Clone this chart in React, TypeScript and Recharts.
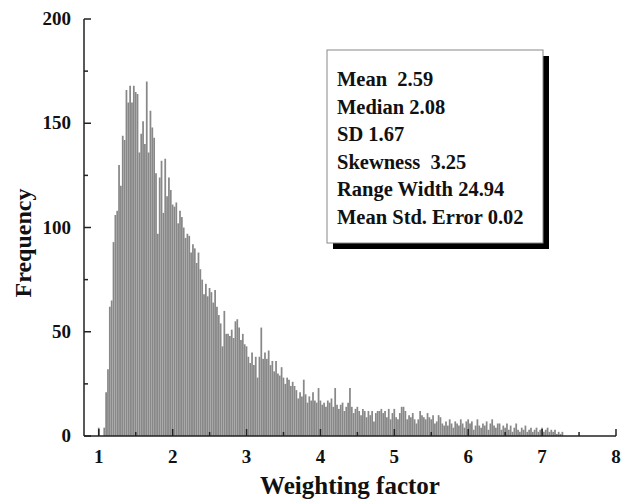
import { BarChart, Bar, XAxis, YAxis } from "recharts";

// histogram bins: centres start at 1.0, 0.025 wide
const binStart = 1.0;
const binWidth = 0.025;

const freq1to2 = [
  4, 0, 0, 4, 21, 32, 62, 65, 93, 106,
  108, 130, 120, 144, 142, 166, 160, 168, 160, 168,
  165, 164, 136, 145, 151, 140, 170, 136, 156, 148,
  143, 126, 97, 124, 132, 107, 133, 115, 124, 118,
];
const freq2to3 = [
  111, 110, 112, 102, 108, 105, 100, 95, 97, 96,
  88, 92, 90, 83, 88, 80, 75, 68, 73, 67,
  71, 69, 64, 70, 62, 58, 54, 43, 60, 49,
  49, 48, 51, 47, 55, 56, 52, 46, 49, 44,
];
const freq3to4 = [
  43, 38, 35, 40, 34, 38, 28, 38, 52, 37,
  40, 37, 41, 34, 36, 31, 36, 30, 29, 33,
  28, 25, 28, 27, 24, 26, 24, 22, 18, 21,
  19, 27, 20, 16, 19, 17, 21, 17, 16, 23,
];
const freq4to5 = [
  17, 15, 16, 14, 17, 16, 18, 14, 23, 15,
  13, 15, 16, 12, 14, 16, 23, 14, 11, 13,
  14, 12, 10, 13, 12, 9, 12, 10, 12, 7,
  11, 12, 12, 13, 11, 12, 9, 13, 8, 11,
];
const freq5to6 = [
  13, 9, 8, 11, 14, 14, 12, 8, 10, 9,
  11, 8, 6, 8, 12, 10, 9, 8, 11, 9,
  8, 10, 6, 7, 10, 9, 6, 5, 7, 5,
  8, 6, 4, 7, 6, 5, 8, 6, 4, 7,
];
const freq6to7 = [
  8, 6, 7, 3, 5, 8, 5, 4, 6, 5,
  7, 3, 6, 8, 5, 4, 6, 6, 3, 5,
  4, 6, 3, 5, 2, 4, 6, 3, 2, 4,
  3, 5, 2, 3, 4, 2, 3, 4, 2, 3,
];
const freq7up = [4, 2, 3, 4, 2, 3, 2, 3, 1, 2, 1, 2];

const frequencies = [
  ...freq1to2, ...freq2to3, ...freq3to4, ...freq4to5, ...freq5to6, ...freq6to7, ...freq7up,
];

const data = frequencies.map((count, i) => ({
  x: +(binStart + i * binWidth).toFixed(3),
  count,
}));

const xTicks = [1, 1.5, 2, 2.5, 3, 3.5, 4, 4.5, 5, 5.5, 6, 6.5, 7, 7.5, 8];
const yTicks = [0, 25, 50, 75, 100, 125, 150, 175, 200];

const stats = [
  "Mean  2.59",
  "Median 2.08",
  "SD 1.67",
  "Skewness  3.25",
  "Range Width 24.94",
  "Mean Std. Error 0.02",
];

const serif = "'Liberation Serif', 'Times New Roman', serif";

const XTick = ({ x, y, payload }: any) => {
  const major = Number.isInteger(payload.value);
  return (
    <g>
      <line x1={x} x2={x} y1={y} y2={y - (major ? 7 : 4)} stroke="#222" strokeWidth={1.5} />
      {major && (
        <text x={x} y={y + 27} textAnchor="middle" fontFamily={serif} fontWeight="bold" fontSize={19} fill="#111">
          {payload.value}
        </text>
      )}
    </g>
  );
};

const YTick = ({ x, y, payload }: any) => {
  const major = payload.value % 50 === 0;
  return (
    <g>
      <line x1={x} x2={x + (major ? 7 : 4)} y1={y} y2={y} stroke="#222" strokeWidth={1.5} />
      {major && (
        <text x={x - 13} y={y + 6} textAnchor="end" fontFamily={serif} fontWeight="bold" fontSize={19} fill="#111">
          {payload.value}
        </text>
      )}
    </g>
  );
};

export default function App() {
  const W = 616;
  const H = 491;
  return (
    <div style={{ padding: "8px 0 0 8px", width: W, height: H }}>
      <style>{"body { margin: 0; }"}</style>
      <div style={{ position: "relative", width: W, height: H }}>
        <BarChart width={W} height={H} data={data} margin={{ top: 11, right: 8, left: 0, bottom: 0 }}>
          <XAxis
            xAxisId="main"
            dataKey="x"
            type="number"
            domain={[0.8, 8]}
            ticks={xTicks}
            interval={0}
            height={63}
            tickSize={0}
            tickMargin={0}
            tick={<XTick />}
            axisLine={{ stroke: "#222", strokeWidth: 1.5 }}
            tickLine={false}
          />
          <XAxis
            xAxisId="top"
            orientation="top"
            type="number"
            domain={[0.8, 8]}
            height={0}
            tick={false}
            tickLine={false}
            axisLine={{ stroke: "#222", strokeWidth: 1.5 }}
          />
          <YAxis
            yAxisId="main"
            domain={[0, 200]}
            ticks={yTicks}
            interval={0}
            width={76}
            tickSize={0}
            tickMargin={0}
            tick={<YTick />}
            axisLine={{ stroke: "#222", strokeWidth: 1.5 }}
            tickLine={false}
          />
          <YAxis
            yAxisId="right"
            orientation="right"
            domain={[0, 200]}
            width={0}
            tick={false}
            tickLine={false}
            axisLine={{ stroke: "#222", strokeWidth: 1.5 }}
          />
          <Bar
            xAxisId="main"
            yAxisId="main"
            dataKey="count"
            fill="#888888"
            barSize={1.75}
            isAnimationActive={false}
          />
        </BarChart>
        <svg width={W} height={H} style={{ position: "absolute", left: 0, top: 0, pointerEvents: "none" }}>
          <text
            transform="translate(15,235) rotate(-90)"
            textAnchor="middle"
            dominantBaseline="central"
            fontFamily={serif}
            fontWeight="bold"
            fontSize={24}
            fill="#111"
          >
            Frequency
          </text>
          <text x={342} y={486} textAnchor="middle" fontFamily={serif} fontWeight="bold" fontSize={25} fill="#111">
            Weighting factor
          </text>
          <rect x={325} y={48} width={216} height={193} fill="#000" />
          <rect x={319} y={42} width={216} height={193} fill="#fff" stroke="#888" strokeWidth={1} />
          {stats.map((s, i) => (
            <text
              key={s}
              x={329}
              y={78 + i * 27.6}
              fontFamily={serif}
              fontWeight="bold"
              fontSize={20.5}
              fill="#111"
              style={{ whiteSpace: "pre" }}
            >
              {s}
            </text>
          ))}
        </svg>
      </div>
    </div>
  );
}
